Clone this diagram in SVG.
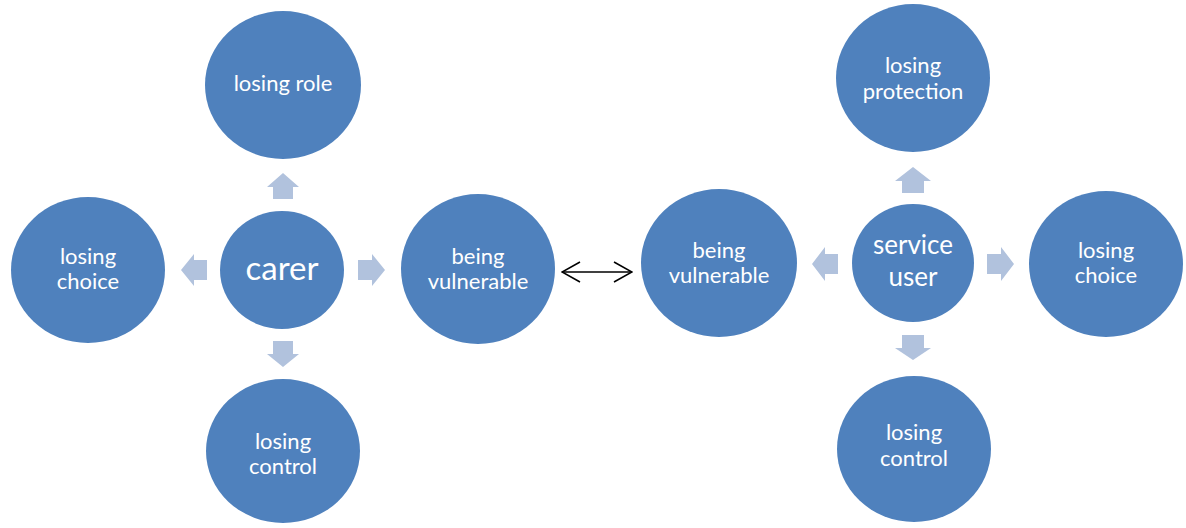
<svg xmlns="http://www.w3.org/2000/svg" width="1186" height="528" viewBox="0 0 1186 528">
  <defs>
    <style>
      .node { fill: #4F81BD; }
      .lbl { fill: #FFFFFF; font-family: Lato, "Open Sans", "Liberation Sans", sans-serif; font-size: 22px; text-anchor: middle; }
      .big { font-size: 33px; }
      .mid { font-size: 26px; }
      .blk { fill: #B1C2DD; }
      .link { stroke: #000000; stroke-width: 1.6; fill: none; }
    </style>
    <marker id="open" viewBox="0 0 20 22" refX="19" refY="11" markerWidth="20" markerHeight="22" markerUnits="userSpaceOnUse" orient="auto-start-reverse">
      <path d="M1,1 L19,11 L1,21" fill="none" stroke="#000000" stroke-width="1.6"/>
    </marker>
  </defs>
  <rect width="1186" height="528" fill="#FFFFFF"/>

  <!-- carer cluster -->
  <g id="carer">
    <ellipse class="node" cx="282" cy="270" rx="62" ry="59"/>
    <text class="lbl big" x="282" y="280">carer</text>
  </g>
  <g id="carer-losing-role">
    <ellipse class="node" cx="283" cy="85" rx="78" ry="74"/>
    <text class="lbl" x="283" y="91">losing role</text>
  </g>
  <g id="carer-losing-choice">
    <ellipse class="node" cx="88" cy="270" rx="77" ry="73"/>
    <text class="lbl" x="88" y="264">losing</text>
    <text class="lbl" x="88" y="289">choice</text>
  </g>
  <g id="carer-being-vulnerable">
    <ellipse class="node" cx="478" cy="269" rx="77" ry="75"/>
    <text class="lbl" x="478" y="264">being</text>
    <text class="lbl" x="478" y="289">vulnerable</text>
  </g>
  <g id="carer-losing-control">
    <ellipse class="node" cx="283" cy="451" rx="77" ry="72"/>
    <text class="lbl" x="283" y="449">losing</text>
    <text class="lbl" x="283" y="474">control</text>
  </g>

  <!-- service user cluster -->
  <g id="service-user">
    <ellipse class="node" cx="913" cy="263" rx="61" ry="59"/>
    <text class="lbl mid" x="913" y="254">service</text>
    <text class="lbl mid" x="913" y="286">user</text>
  </g>
  <g id="su-losing-protection">
    <ellipse class="node" cx="913" cy="78" rx="77" ry="74"/>
    <text class="lbl" x="913" y="73">losing</text>
    <text class="lbl" x="913" y="99">protection</text>
  </g>
  <g id="su-being-vulnerable">
    <ellipse class="node" cx="719" cy="263" rx="78" ry="74"/>
    <text class="lbl" x="719" y="258">being</text>
    <text class="lbl" x="719" y="283">vulnerable</text>
  </g>
  <g id="su-losing-choice">
    <ellipse class="node" cx="1106" cy="264" rx="77" ry="73"/>
    <text class="lbl" x="1106" y="258">losing</text>
    <text class="lbl" x="1106" y="283">choice</text>
  </g>
  <g id="su-losing-control">
    <ellipse class="node" cx="914" cy="449" rx="77" ry="73"/>
    <text class="lbl" x="914" y="440">losing</text>
    <text class="lbl" x="914" y="466">control</text>
  </g>

  <!-- connectors: block arrows and the two-way link -->
  <g id="connectors">
    <path class="blk" d="M283,173 L299,187 L293,187 L293,199 L273,199 L273,187 L267,187 Z"/>
    <path class="blk" d="M181,270 L194,254 L194,260 L207,260 L207,280 L194,280 L194,286 Z"/>
    <path class="blk" d="M385,270 L372,254 L372,260 L358,260 L358,280 L372,280 L372,286 Z"/>
    <path class="blk" d="M283,367 L299,354 L293,354 L293,341 L273,341 L273,354 L267,354 Z"/>

    <path class="blk" d="M913,167 L931,181 L924,181 L924,193 L902,193 L902,181 L895,181 Z"/>
    <path class="blk" d="M812,264 L825,247 L825,254 L838,254 L838,274 L825,274 L825,281 Z"/>
    <path class="blk" d="M1014,264 L1001,247 L1001,254 L987,254 L987,274 L1001,274 L1001,281 Z"/>
    <path class="blk" d="M913,360 L931,348 L924,348 L924,335 L902,335 L902,348 L895,348 Z"/>

    <line class="link" x1="562" y1="272" x2="632" y2="272" marker-start="url(#open)" marker-end="url(#open)"/>
  </g>
</svg>
